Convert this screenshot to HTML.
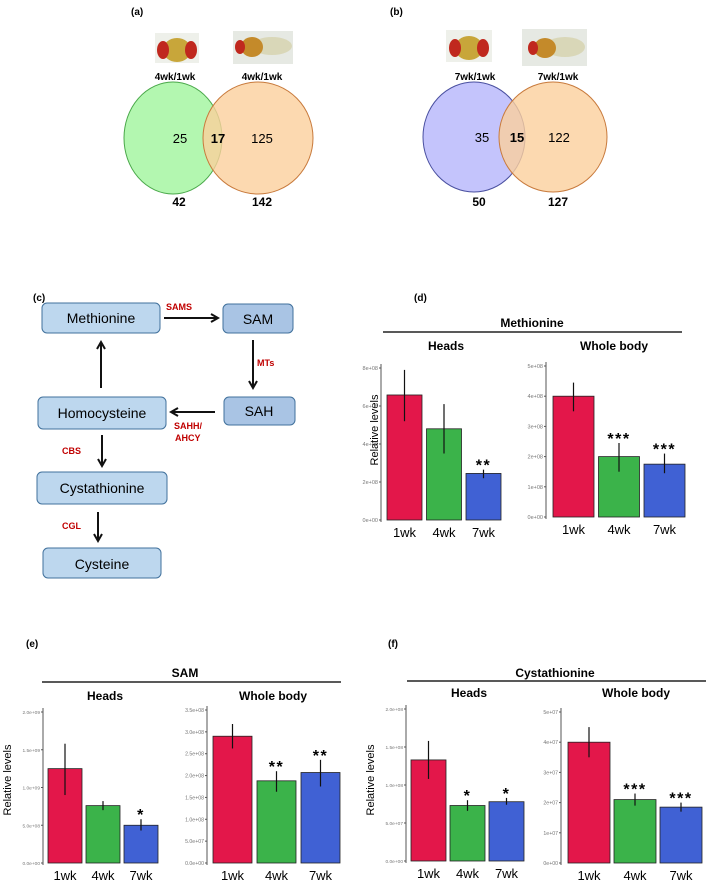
<!DOCTYPE html>
<html><head><meta charset="utf-8">
<style>
html,body{margin:0;padding:0;background:#fff;}
svg{display:block;font-family:"Liberation Sans",sans-serif;}
.b{font-weight:bold;}
</style></head>
<body>
<svg id="fig" width="709" height="884" viewBox="0 0 709 884" xmlns="http://www.w3.org/2000/svg">
<defs>
<marker id="ah" markerWidth="10" markerHeight="10" refX="8" refY="5" orient="auto" markerUnits="userSpaceOnUse">
<path d="M1,1 L8,5 L1,9" fill="none" stroke="#111" stroke-width="2"/></marker>
</defs>
<!-- Panel a -->
<text x="131" y="15" font-size="10" class="b">(a)</text>
<g>
<rect x="155" y="33" width="44" height="30" fill="#eef0ea"/>
<ellipse cx="177" cy="50" rx="14" ry="12" fill="#c8a63a"/>
<ellipse cx="163" cy="50" rx="6" ry="9" fill="#c0281e"/>
<ellipse cx="191" cy="50" rx="6" ry="9" fill="#c0281e"/>
</g>
<g>
<rect x="233" y="31" width="60" height="33" fill="#e6e9e3"/>
<ellipse cx="272" cy="46" rx="20" ry="9" fill="#d9d7b8"/>
<ellipse cx="252" cy="47" rx="11" ry="10" fill="#c48a2a"/>
<ellipse cx="240" cy="47" rx="5" ry="7" fill="#c0281e"/>
</g>
<text x="175" y="80" font-size="10" class="b" text-anchor="middle">4wk/1wk</text>
<text x="262" y="80" font-size="10" class="b" text-anchor="middle">4wk/1wk</text>
<ellipse cx="173" cy="138" rx="49" ry="56" fill="#b3f7b0" stroke="#4aa84a"/>
<ellipse cx="258" cy="138" rx="55" ry="56" fill="#fbcf9c" fill-opacity="0.8" stroke="#c87a3c"/>
<text x="180" y="143" font-size="13" text-anchor="middle">25</text>
<text x="218" y="143" font-size="13" class="b" text-anchor="middle">17</text>
<text x="262" y="143" font-size="13" text-anchor="middle">125</text>
<text x="179" y="206" font-size="12" class="b" text-anchor="middle">42</text>
<text x="262" y="206" font-size="12" class="b" text-anchor="middle">142</text>
<!-- Panel b -->
<text x="390" y="15" font-size="10" class="b">(b)</text>
<g>
<rect x="446" y="30" width="46" height="32" fill="#eef0ea"/>
<ellipse cx="469" cy="48" rx="14" ry="12" fill="#c8a63a"/>
<ellipse cx="455" cy="48" rx="6" ry="9" fill="#c0281e"/>
<ellipse cx="483" cy="48" rx="6" ry="9" fill="#c0281e"/>
</g>
<g>
<rect x="522" y="29" width="65" height="37" fill="#e6e9e3"/>
<ellipse cx="565" cy="47" rx="20" ry="10" fill="#d9d7b8"/>
<ellipse cx="545" cy="48" rx="11" ry="10" fill="#c48a2a"/>
<ellipse cx="533" cy="48" rx="5" ry="7" fill="#c0281e"/>
</g>
<text x="475" y="80" font-size="10" class="b" text-anchor="middle">7wk/1wk</text>
<text x="558" y="80" font-size="10" class="b" text-anchor="middle">7wk/1wk</text>
<ellipse cx="474" cy="137" rx="51" ry="55" fill="#c4c4fc" stroke="#4a50a0"/>
<ellipse cx="553" cy="137" rx="54" ry="55" fill="#fbcf9c" fill-opacity="0.8" stroke="#c87a3c"/>
<text x="482" y="142" font-size="13" text-anchor="middle">35</text>
<text x="517" y="142" font-size="13" class="b" text-anchor="middle">15</text>
<text x="559" y="142" font-size="13" text-anchor="middle">122</text>
<text x="479" y="206" font-size="12" class="b" text-anchor="middle">50</text>
<text x="558" y="206" font-size="12" class="b" text-anchor="middle">127</text>
<!-- Panel c -->
<text x="33" y="301" font-size="10" class="b">(c)</text>
<g font-size="14" text-anchor="middle">
<rect x="42" y="303" width="118" height="30" rx="5" fill="#bdd7ee" stroke="#41719c"/>
<text x="101" y="323">Methionine</text>
<rect x="223" y="304" width="70" height="29" rx="5" fill="#a9c4e4" stroke="#41719c"/>
<text x="258" y="324">SAM</text>
<rect x="224" y="397" width="71" height="28" rx="5" fill="#a9c4e4" stroke="#41719c"/>
<text x="259" y="416">SAH</text>
<rect x="38" y="397" width="128" height="32" rx="5" fill="#bdd7ee" stroke="#41719c"/>
<text x="102" y="418">Homocysteine</text>
<rect x="37" y="472" width="130" height="32" rx="5" fill="#bdd7ee" stroke="#41719c"/>
<text x="102" y="493">Cystathionine</text>
<rect x="43" y="548" width="118" height="30" rx="5" fill="#bdd7ee" stroke="#41719c"/>
<text x="102" y="569">Cysteine</text>
</g>
<g stroke="#111" stroke-width="2" marker-end="url(#ah)">
<line x1="164" y1="318" x2="218" y2="318"/>
<line x1="253" y1="340" x2="253" y2="388"/>
<line x1="215" y1="412" x2="171" y2="412"/>
<line x1="101" y1="388" x2="101" y2="342"/>
<line x1="102" y1="435" x2="102" y2="466"/>
<line x1="98" y1="512" x2="98" y2="541"/>
</g>
<g font-size="9" class="b" fill="#c00000">
<text x="166" y="310">SAMS</text>
<text x="257" y="366">MTs</text>
<text x="174" y="429">SAHH/</text>
<text x="175" y="441">AHCY</text>
<text x="62" y="454">CBS</text>
<text x="62" y="529">CGL</text>
</g>
<!-- Panel labels d e f -->
<text x="414" y="301" font-size="10" class="b">(d)</text>
<text x="26" y="647" font-size="10" class="b">(e)</text>
<text x="388" y="647" font-size="10" class="b">(f)</text>
<g id="charts"></g>
</svg>
<script>
const groups = ["1wk","4wk","7wk"];
const barColors = ["#e3174a","#3bb34a","#4061d4"];
// Methionine heads (units 1e8)
const metHeadsVals = [6.58, 4.8, 2.45];
const metHeadsHi = [7.9, 6.1, 2.65];
const metHeadsLo = [5.2, 3.5, 2.2];
const metHeadsTicks = ["0e+00","2e+08","4e+08","6e+08","8e+08"];
const metHeadsStars = ["","","**"];
// Methionine whole body (1e8)
const metBodyVals = [4.0, 2.0, 1.75];
const metBodyHi = [4.45, 2.45, 2.1];
const metBodyLo = [3.5, 1.5, 1.45];
const metBodyTicks = ["0e+00","1e+08","2e+08","3e+08","4e+08","5e+08"];
const metBodyStars = ["","***","***"];
// SAM heads (1e9)
const samHeadsVals = [1.25, 0.76, 0.5];
const samHeadsHi = [1.58, 0.82, 0.58];
const samHeadsLo = [0.9, 0.7, 0.43];
const samHeadsTicks = ["0.0e+00","5.0e+08","1.0e+09","1.5e+09","2.0e+09"];
const samHeadsStars = ["","","*"];
// SAM whole body (1e8)
const samBodyVals = [2.9, 1.88, 2.07];
const samBodyHi = [3.18, 2.1, 2.36];
const samBodyLo = [2.62, 1.63, 1.75];
const samBodyTicks = ["0.0e+00","5.0e+07","1.0e+08","1.5e+08","2.0e+08","2.5e+08","3.0e+08","3.5e+08"];
const samBodyStars = ["","**","**"];
// Cystathionine heads (1e8)
const cysHeadsVals = [1.33, 0.73, 0.78];
const cysHeadsHi = [1.58, 0.8, 0.83];
const cysHeadsLo = [1.08, 0.66, 0.74];
const cysHeadsTicks = ["0.0e+00","5.0e+07","1.0e+08","1.5e+08","2.0e+08"];
const cysHeadsStars = ["","*","*"];
// Cystathionine whole body (1e7)
const cysBodyVals = [4.0, 2.1, 1.85];
const cysBodyHi = [4.5, 2.3, 2.0];
const cysBodyLo = [3.5, 1.9, 1.7];
const cysBodyTicks = ["0e+00","1e+07","2e+07","3e+07","4e+07","5e+07"];
const cysBodyStars = ["","***","***"];

const NS = "http://www.w3.org/2000/svg";
const root = document.getElementById("charts");
function mk(tag, attrs, parent, text){
  const e = document.createElementNS(NS, tag);
  for (const k in attrs) e.setAttribute(k, attrs[k]);
  if (text !== undefined) e.textContent = text;
  (parent || root).appendChild(e);
  return e;
}
function panel(name, g, vals, hi, lo, ticks, stars, tickFs){
  const grp = mk("g", {});
  
  
  const y = v => g.y0 - (v / g.max) * (g.y0 - g.yTop);
  const x = i => g.bx + i * (g.bw + g.gap);
  const ax = mk("line", {x1:g.ax, y1:g.yTop-4, x2:g.ax, y2:g.y0+2, stroke:"#555", "stroke-width":1}, grp);
  
  
  ticks.forEach((t, i) => {
    const v = g.max * i / (ticks.length - 1);
    mk("line", {x1:g.ax-2, y1:y(v), x2:g.ax, y2:y(v), stroke:"#555"}, grp);
    const tl = mk("text", {x:g.ax-3, y:y(v)+2, "font-size":tickFs, fill:"#777", "text-anchor":"end"}, grp, t);
    
    
  });
  vals.forEach((v, i) => {
    const r = mk("rect", {x:x(i), y:y(v), width:g.bw, height:g.y0-y(v), fill:barColors[i], stroke:"#222", "stroke-width":0.8}, grp);
    
    
    const cx = x(i) + g.bw/2;
    const e = mk("line", {x1:cx, y1:y(hi[i]), x2:cx, y2:y(lo[i]), stroke:"#111", "stroke-width":1.2}, grp);
    
    
    const xl = mk("text", {x:cx, y:g.y0+17, "font-size":13, "text-anchor":"middle"}, grp, groups[i]);
    
    
    if (stars[i]) {
      const s = mk("text", {x:cx, y:y(hi[i])+1, "font-size":16, "font-weight":"bold", "text-anchor":"middle", "letter-spacing":"1.5"}, grp, stars[i]);
      
      
    }
  });
}
function title(text, x, y, size, name){
  const t = mk("text", {x:x, y:y, "font-size":size, "font-weight":"bold", "text-anchor":"middle"}, root, text);
  
  
}
function hline(x1, x2, yy, name){
  const l = mk("line", {x1:x1, y1:yy, x2:x2, y2:yy, stroke:"#222", "stroke-width":1.5});
  
  
}
function ylab(x, yy, name){
  const t = mk("text", {x:0, y:0, "font-size":11, "text-anchor":"middle", transform:"translate("+x+","+yy+") rotate(-90)"}, root, "Relative levels");
  
  
}
// (d)
title("Methionine", 532, 327, 12, "methionine-title");
hline(383, 682, 332, "methionine-divider");
title("Heads", 446, 350, 12, "d-heads-title");
title("Whole body", 614, 350, 12, "d-whole-body-title");
ylab(378, 430, "d-y-axis-title");
panel("d-heads-chart", {ax:381, y0:520, yTop:368, max:8, bx:387, bw:35, gap:4.5}, metHeadsVals, metHeadsHi, metHeadsLo, metHeadsTicks, metHeadsStars, 5.5);
panel("d-whole-body-chart", {ax:546, y0:517, yTop:366, max:5, bx:553, bw:41, gap:4.5}, metBodyVals, metBodyHi, metBodyLo, metBodyTicks, metBodyStars, 5.5);
// (e)
title("SAM", 185, 677, 12, "sam-title");
hline(42, 341, 682, "sam-divider");
title("Heads", 105, 700, 12, "e-heads-title");
title("Whole body", 273, 700, 12, "e-whole-body-title");
ylab(11, 780, "e-y-axis-title");
panel("e-heads-chart", {ax:43, y0:863, yTop:712, max:2, bx:48, bw:34, gap:4}, samHeadsVals, samHeadsHi, samHeadsLo, samHeadsTicks, samHeadsStars, 4.8);
panel("e-whole-body-chart", {ax:207, y0:863, yTop:710, max:3.5, bx:213, bw:39, gap:5}, samBodyVals, samBodyHi, samBodyLo, samBodyTicks, samBodyStars, 5.2);
// (f)
title("Cystathionine", 555, 677, 12, "cystathionine-title");
hline(407, 706, 681, "cystathionine-divider");
title("Heads", 469, 697, 12, "f-heads-title");
title("Whole body", 636, 697, 12, "f-whole-body-title");
ylab(374, 780, "f-y-axis-title");
panel("f-heads-chart", {ax:406, y0:861, yTop:709, max:2, bx:411, bw:35, gap:4}, cysHeadsVals, cysHeadsHi, cysHeadsLo, cysHeadsTicks, cysHeadsStars, 4.8);
panel("f-whole-body-chart", {ax:561, y0:863, yTop:712, max:5, bx:568, bw:42, gap:4}, cysBodyVals, cysBodyHi, cysBodyLo, cysBodyTicks, cysBodyStars, 5.2);
</script>
</body></html>
